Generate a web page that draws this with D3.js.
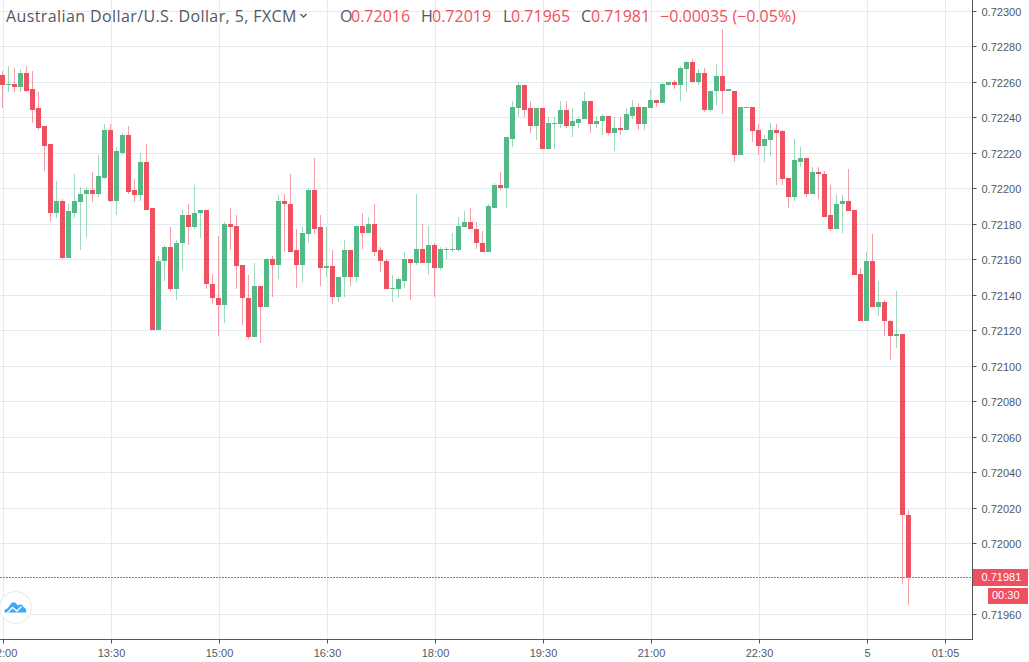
<!DOCTYPE html>
<html>
<head>
<meta charset="utf-8">
<script src="https://cdnjs.cloudflare.com/ajax/libs/d3/7.8.5/d3.min.js"></script>
<style>
  html, body { margin: 0; padding: 0; background: #fff; overflow: hidden; }
  svg { display: block; }
  text { font-family: "Liberation Sans", Arial, sans-serif; }
  .legend text { font-family: "Open Sans", sans-serif; font-size: 16px; }
</style>
</head>
<body>
<div id="chart"></div>
<script>
// AUD/USD 5 min candles, prices in points (price * 100000)
const opens = [
  72264,72258,72259,72257,72265,72256,72245,72235,72225,72186,
  72193,72161,72186,72192,72197,72199,72197,72206,72233,72193,
  72220,72230,72199,72196,72215,72189,72120,72159,72167,72143,
  72169,72185,72178,72186,72188,72146,72138,72134,72180,72179,
  72157,72138,72116,72145,72133,72160,72157,72193,72191,72165,
  72157,72174,72199,72178,72155,72156,72139,72150,72165,72150,
  72179,72175,72180,72165,72159,72143,72143,72148,72160,72158,
  72166,72158,72168,72155,72165,72165,72165,72178,72181,72177,
  72169,72164,72189,72202,72200,72228,72245,72258,72245,72235,
  72245,72222,72236,72236,72244,72235,72237,72239,72249,72236,
  72238,72241,72231,72234,72233,72241,72246,72236,72245,72250,
  72248,72258,72260,72258,72267,72271,72260,72265,72244,72255,
  72263,72255,72255,72219,72245,72246,72233,72224,72227,72233,
  72232,72206,72195,72215,72217,72197,72209,72208,72185,72177,
  72191,72193,72188,72152,72125,72159,72133,72136,72125,72117,
  72118,72016
];
const closes = [
  72258,72259,72257,72265,72255,72244,72234,72224,72186,72193,
  72161,72187,72193,72197,72199,72197,72207,72233,72193,72221,
  72230,72198,72196,72215,72188,72120,72159,72167,72143,72169,
  72185,72178,72186,72188,72146,72138,72134,72180,72178,72156,
  72138,72116,72145,72133,72160,72157,72193,72191,72164,72157,
  72175,72199,72177,72155,72156,72139,72150,72165,72150,72179,
  72175,72180,72164,72159,72143,72144,72149,72160,72158,72166,
  72158,72168,72155,72166,72166,72166,72179,72181,72177,72169,
  72164,72190,72202,72200,72229,72246,72258,72244,72235,72245,
  72222,72237,72237,72244,72235,72238,72239,72249,72236,72238,
  72241,72231,72234,72233,72242,72246,72236,72246,72250,72248,
  72259,72260,72258,72268,72271,72260,72265,72244,72255,72263,
  72255,72256,72219,72246,72246,72232,72224,72228,72233,72231,
  72205,72195,72216,72217,72197,72209,72208,72184,72177,72191,
  72193,72187,72151,72125,72159,72133,72136,72125,72117,72118,
  72016,71981
];
const highs = [
  72266,72269,72268,72267,72269,72266,72254,72235,72225,72204,
  72194,72191,72208,72201,72201,72209,72219,72236,72236,72223,
  72231,72235,72205,72220,72225,72189,72162,72168,72178,72171,
  72188,72191,72202,72188,72188,72152,72173,72181,72189,72185,
  72157,72151,72158,72145,72161,72162,72196,72197,72208,72177,
  72178,72200,72217,72185,72178,72165,72150,72171,72165,72179,
  72186,72184,72191,72167,72160,72151,72150,72164,72160,72197,
  72180,72179,72169,72167,72167,72175,72184,72187,72189,72181,
  72176,72191,72203,72209,72229,72249,72260,72258,72249,72245,
  72245,72240,72240,72249,72249,72245,72240,72254,72249,72241,
  72242,72241,72240,72240,72245,72250,72248,72246,72256,72250,
  72260,72260,72261,72269,72272,72273,72267,72268,72255,72270,
  72290,72256,72255,72246,72246,72246,72236,72230,72237,72236,
  72233,72206,72228,72223,72217,72212,72212,72210,72202,72197,
  72196,72211,72188,72155,72164,72174,72148,72137,72126,72142,
  72118,72019
];
const lows = [
  72245,72254,72254,72254,72254,72237,72233,72210,72181,72183,
  72160,72161,72183,72165,72172,72192,72195,72205,72192,72185,
  72219,72197,72192,72193,72188,72120,72120,72148,72142,72137,
  72154,72168,72177,72172,72143,72135,72117,72124,72165,72143,
  72123,72115,72116,72113,72133,72139,72149,72164,72164,72144,
  72147,72169,72174,72145,72150,72135,72136,72139,72145,72147,
  72166,72175,72162,72153,72143,72136,72138,72144,72137,72157,
  72158,72151,72139,72154,72160,72164,72164,72178,72177,72166,
  72164,72164,72189,72199,72189,72223,72240,72240,72231,72227,
  72222,72222,72222,72234,72234,72229,72234,72239,72231,72234,
  72230,72230,72221,72230,72233,72239,72233,72233,72245,72246,
  72248,72258,72256,72249,72254,72260,72258,72243,72243,72247,
  72242,72255,72215,72219,72245,72226,72219,72215,72218,72202,
  72202,72189,72193,72212,72195,72197,72194,72184,72176,72177,
  72175,72187,72151,72125,72125,72133,72128,72117,72103,72110,
  71977,71965
];

// 0.71980 sits behind the last price badge, so it is left out
const priceTicks = [71960, 72000, 72020, 72040, 72060, 72080, 72100, 72120, 72140, 72160, 72180, 72200, 72220, 72240, 72260, 72280, 72300];
const timeTicks = [0, 18, 36, 54, 72, 90, 108, 126, 144, 157];
const timeLabels = ["12:00", "13:30", "15:00", "16:30", "18:00", "19:30", "21:00", "22:30", "5", "01:05"];

const lastPrice = 71981;
const countdown = "00:30";

const WIDTH = 1029, HEIGHT = 662;
const AXIS_X = 972, AXIS_Y = 639;
const BODY_W = 5;

const UP = "#53b987", DOWN = "#ef5060", GRID = "#e1ecf2", AXIS = "#555", LABEL = "#4f5966";

const x = d3.scaleLinear().domain([0, 157]).range([2.5, 944.5]);
const y = d3.scaleLinear().domain([71960, 72300]).range([614.3, 10.8]);
const py = v => Math.round(y(v));

const svg = d3.select("#chart").append("svg")
  .attr("width", WIDTH)
  .attr("height", HEIGHT)
  .attr("viewBox", [0, 0, WIDTH, HEIGHT]);

// grid
const grid = svg.append("g").attr("stroke", GRID).attr("stroke-width", 1);
grid.selectAll("line.h").data(priceTicks).join("line")
  .attr("class", "h")
  .attr("x1", 0).attr("x2", AXIS_X)
  .attr("y1", d => py(d) + 0.5).attr("y2", d => py(d) + 0.5);
grid.selectAll("line.v").data(timeTicks).join("line")
  .attr("class", "v")
  .attr("x1", d => x(d) + 1).attr("x2", d => x(d) + 1)
  .attr("y1", 0).attr("y2", AXIS_Y);

// candles
const candles = svg.append("g").selectAll("g")
  .data(opens.map((o, i) => ({ i, o, c: closes[i], h: highs[i], l: lows[i] })))
  .join("g")
  .attr("fill", d => d.c >= d.o ? UP : DOWN);

candles.append("rect")
  .attr("x", d => x(d.i) - 0.5)
  .attr("width", 1)
  .attr("y", d => py(d.h))
  .attr("height", d => Math.max(1, py(d.l) - py(d.h)))
  .attr("fill-opacity", 0.55);

candles.append("rect")
  .attr("x", d => x(d.i) - BODY_W / 2)
  .attr("width", BODY_W)
  .attr("y", d => py(Math.max(d.o, d.c)))
  .attr("height", d => Math.max(1, py(Math.min(d.o, d.c)) - py(Math.max(d.o, d.c))));

// last price line
svg.append("line")
  .attr("x1", 0).attr("x2", AXIS_X)
  .attr("y1", py(lastPrice) + 0.5).attr("y2", py(lastPrice) + 0.5)
  .attr("stroke", DOWN)
  .attr("stroke-dasharray", "2,1");

// axes
const yAxis = svg.append("g")
  .attr("transform", `translate(${AXIS_X + 0.5},0)`)
  .call(d3.axisRight(d3.scaleOrdinal().domain(priceTicks).range(priceTicks.map(py)))
    .tickSize(4).tickPadding(5).offset(0.5)
    .tickFormat(d => (d / 100000).toFixed(5)));
yAxis.select(".domain").remove();
yAxis.selectAll("line").attr("stroke", AXIS);
yAxis.selectAll("text").attr("font-size", 11).attr("dy", "0.42em").attr("fill", LABEL);

const xAxis = svg.append("g")
  .attr("transform", `translate(1,${AXIS_Y + 0.5})`)
  .call(d3.axisBottom(x).tickValues(timeTicks).tickSize(4).tickPadding(6).offset(0)
    .tickFormat((d, i) => timeLabels[i]));
xAxis.select(".domain").remove();
xAxis.selectAll("line").attr("stroke", AXIS);
xAxis.selectAll("text").attr("font-size", 11).attr("fill", LABEL);

svg.append("line").attr("x1", AXIS_X + 0.5).attr("x2", AXIS_X + 0.5).attr("y1", 0).attr("y2", AXIS_Y + 1).attr("stroke", AXIS);
svg.append("line").attr("x1", 0).attr("x2", AXIS_X + 1).attr("y1", AXIS_Y + 0.5).attr("y2", AXIS_Y + 0.5).attr("stroke", AXIS);

// last price badges
const lastY = py(lastPrice);
svg.append("rect").attr("x", AXIS_X + 1).attr("y", lastY - 8).attr("width", 55).attr("height", 17).attr("fill", DOWN);
svg.append("rect").attr("x", 988).attr("y", lastY + 11).attr("width", 40).attr("height", 16).attr("fill", DOWN);
svg.append("text").attr("x", 981.5).attr("y", lastY + 4).attr("font-size", 11).attr("fill", "#fff").text((lastPrice / 100000).toFixed(5));
svg.append("text").attr("x", 992).attr("y", lastY + 22).attr("font-size", 11).attr("fill", "#fff").text(countdown);

// legend
const legendItems = [
  { t: "Australian Dollar/U.S. Dollar, 5, FXCM", x: 6, c: LABEL, ls: 0.4 },
  { t: "O", x: 340, c: LABEL }, { t: "0.72016", x: 351 },
  { t: "H", x: 421, c: LABEL }, { t: "0.72019", x: 432 },
  { t: "L", x: 503, c: LABEL }, { t: "0.71965", x: 511 },
  { t: "C", x: 581, c: LABEL }, { t: "0.71981", x: 591 },
  { t: "\u22120.00035 (\u22120.05%)", x: 660 }
];
svg.append("g").attr("class", "legend").selectAll("text").data(legendItems).join("text")
  .attr("x", d => d.x).attr("y", 22)
  .attr("fill", d => d.c || DOWN)
  .attr("letter-spacing", d => d.ls || 0)
  .text(d => d.t);
svg.append("path").attr("d", "M300.5 14 L303.5 17 L306.5 14").attr("fill", "none").attr("stroke", LABEL).attr("stroke-width", 1.3);

// logo
const logo = svg.append("g").attr("transform", "translate(15.5,607.5)");
logo.append("circle").attr("r", 16).attr("fill", "#fff").attr("stroke", "#e6e8ea").attr("stroke-width", 1);
logo.append("path")
  .attr("d", "M-11 5 Q-11.5 1.5 -8 1 L-4 -4.5 Q-1 -6.5 1 -3.5 L2.5 -2 Q6 -4.5 8 -0.5 Q11.5 1 10.5 5 Z")
  .attr("fill", "#39a9f5");
logo.append("path")
  .attr("d", "M-8 5 L-3 0 L1.5 3.5 L6 -1")
  .attr("fill", "none").attr("stroke", "#fff").attr("stroke-width", 1.4);
</script>
</body>
</html>
